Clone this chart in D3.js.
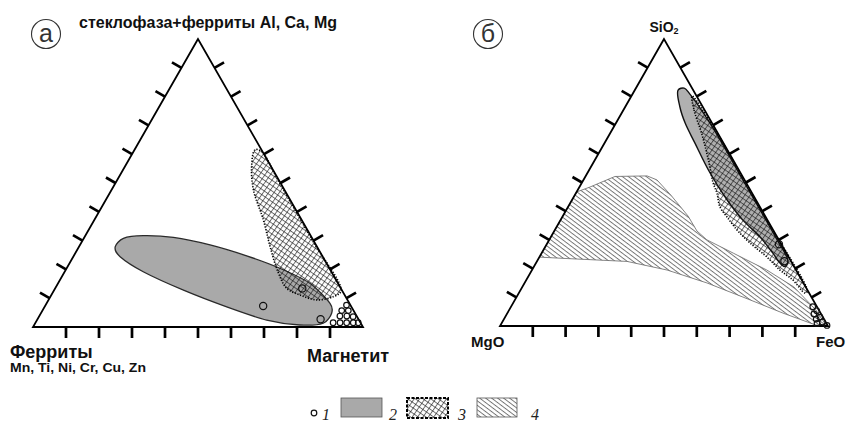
<!DOCTYPE html>
<html>
<head>
<meta charset="utf-8">
<script src="https://cdn.jsdelivr.net/npm/d3@7"></script>
<style>
  body { margin: 0; background: #fff; }
  svg { display: block; }
</style>
</head>
<body>
<div id="output"></div>
<script>
// all compositions in %, order: [top, bottom-left, bottom-right]
const tickSteps = [10, 20, 30, 40, 50, 60, 70, 80, 90];

// panel а: стеклофаза (top), ферриты (left), магнетит (right)
const ellipseA = [
  [27.8, 61.2, 11.0], [30.8, 57.2, 12.0], [31.7, 50.7, 17.6], [31.1, 41.9, 27.0],
  [28.5, 32.1, 39.4], [24.7, 22.9, 52.4], [20.4, 15.0, 64.6], [15.2, 8.5, 76.3],
  [8.2, 5.9, 85.9], [4.8, 7.1, 88.1], [1.3, 11.4, 87.3], [0.7, 18.8, 80.5],
  [2.4, 28.0, 69.6], [7.0, 37.8, 55.2], [12.8, 48.0, 39.2], [19.2, 57.0, 23.8],
  [24.4, 61.4, 14.2]
];
const hatchA = [
  [61.5, 2.0, 36.5], [55.7, 5.9, 38.4], [47.6, 9.4, 43.0], [37.2, 11.6, 51.2],
  [27.9, 14.2, 57.9], [19.1, 16.2, 64.7], [13.4, 16.4, 70.2], [11.1, 13.5, 75.4],
  [9.4, 9.3, 81.3], [10.5, 3.8, 85.7], [12.5, 0.4, 87.1], [30, 0.3, 69.7],
  [50, 0.3, 49.7], [61, 0.3, 38.7]
];
const pointsA = [[7.3, 26.6, 66.1], [13.4, 11.7, 74.9], [2.7, 11.5, 85.8]];
const clusterA = [
  [1.5, 8.3, 90.2], [1.5, 6.2, 92.3], [1.5, 4.2, 94.3], [1.5, 2.2, 96.3], [1.5, 0.7, 97.8],
  [3.8, 5.1, 91.1], [3.8, 3.0, 93.2], [3.6, 1.2, 95.2], [5.7, 3.6, 90.7], [5.7, 1.6, 92.7],
  [7.6, 1.2, 91.2]
];

// panel б: SiO2 (top), MgO (left), FeO (right)
const grayB = [
  [82.2, 4.6, 13.2], [82.9, 2.4, 14.7], [80.8, 1.7, 17.5], [70, 0.6, 29.4],
  [50, 0.5, 49.5], [30, 0.5, 69.5], [22.6, 0.9, 76.5], [20.7, 2.8, 76.5],
  [22.0, 3.7, 74.3], [25.4, 4.1, 70.5], [31.0, 5.2, 63.8], [36.9, 7.5, 55.6],
  [43.9, 8.8, 47.3], [53.3, 9.3, 37.4], [63.8, 8.7, 27.5], [70.7, 8.2, 21.1],
  [76.3, 7.0, 16.7]
];
const hatchB = [
  [80.1, 1.4, 18.5], [75.3, 3.2, 21.5], [66.6, 5.1, 28.3], [58, 7.5, 34.5],
  [49.8, 10.1, 40.1], [46.3, 10.7, 43.0], [41.5, 12.2, 46.3], [38.0, 11.8, 50.2],
  [33.4, 11.0, 55.6], [28.9, 9.3, 61.8], [24.0, 6.6, 69.4], [19.5, 4.9, 75.6],
  [16.0, 2.7, 81.3], [11.5, 1.3, 87.2], [12, 0.3, 87.7], [40, 0.3, 59.7],
  [70, 0.3, 29.7]
];
const stripeB = [
  [46.7, 53.3, 0], [48.4, 48.4, 3.2], [52.1, 38.9, 9.0], [52.3, 29.0, 18.7],
  [50.9, 26.7, 22.4], [45.6, 25.1, 29.3], [38.3, 23.5, 38.2], [33.1, 23.4, 43.5],
  [30.0, 21.9, 48.1], [25.4, 16.2, 58.4], [19.5, 8.9, 71.6], [13.6, 3.6, 82.8],
  [5.6, 0.9, 93.5], [0.5, 0.5, 99.0], [0.3, 3.5, 96.2], [4.5, 11.5, 84.0],
  [9.1, 19.2, 71.7], [15.0, 29.4, 55.6], [19.5, 39.3, 41.2], [22.5, 50.0, 27.5],
  [23.5, 67.8, 8.7], [24.0, 76.0, 0]
];
const pointsB = [[28.5, 0.7, 70.8], [22.6, 2.0, 75.4]];
const clusterB = [
  [6.7, 1.3, 92.0], [5.3, 0.8, 93.9], [4.2, 2.2, 93.6], [3.1, 0.9, 96.0],
  [2.4, 2.4, 95.2], [1.4, 1.0, 97.6], [0.9, 2.9, 96.2], [0.2, 0.2, 99.6]
];

const legendLabels = ["1", "2", "3", "4"];

const width = 848, height = 422;
const font = "'Liberation Sans', Arial, sans-serif";

const svg = d3.select("#output").append("svg")
    .attr("width", width)
    .attr("height", height)
    .style("font-family", font);

const defs = svg.append("defs");

// crosshatch for field 3
const cross = defs.append("pattern")
    .attr("id", "cross")
    .attr("patternUnits", "userSpaceOnUse")
    .attr("width", 4.4)
    .attr("height", 4.4)
    .attr("patternTransform", "rotate(35)");
cross.append("path")
    .attr("d", "M0,0.5H4.4M0.5,0V4.4")
    .attr("stroke", "#111")
    .attr("stroke-width", 0.6);

// oblique lines for field 4
const stripe = defs.append("pattern")
    .attr("id", "stripe")
    .attr("patternUnits", "userSpaceOnUse")
    .attr("width", 8)
    .attr("height", 3.6)
    .attr("patternTransform", "rotate(37)");
stripe.append("path")
    .attr("d", "M0,0.5H8")
    .attr("stroke", "#444")
    .attr("stroke-width", 0.75);

function panel(cfg) {
    const xs = d3.scaleLinear([0, 100], [cfg.left, cfg.right]);
    const ys = d3.scaleLinear([0, 100], [cfg.base, cfg.apex]);
    const P = d => [xs(d[2] + d[0] / 2), ys(d[0])];
    const g = svg.append("g");

    const smooth = d3.line(d => P(d)[0], d => P(d)[1]).curve(d3.curveCatmullRomClosed.alpha(0.5));
    const poly = d3.line(d => P(d)[0], d => P(d)[1]).curve(d3.curveLinearClosed);

    cfg.draw(g, P, smooth, poly);

    // triangle frame
    const corners = [[100, 0, 0], [0, 100, 0], [0, 0, 100]];
    g.append("path")
        .attr("d", poly(corners))
        .attr("fill", "none")
        .attr("stroke", "#000")
        .attr("stroke-width", 1.8)
        .attr("stroke-linejoin", "miter");

    // tick marks, pointing outwards
    const L = 11;
    const sides = [
        {pos: t => [0, 100 - t, t], n: [0, 1]},
        {pos: t => [t, 100 - t, 0], n: [-0.866, -0.5]},
        {pos: t => [t, 0, 100 - t], n: [0.866, -0.5]}
    ];
    sides.forEach(s => {
        g.append("g").selectAll("line")
            .data(tickSteps)
            .join("line")
            .attr("x1", t => P(s.pos(t))[0])
            .attr("y1", t => P(s.pos(t))[1])
            .attr("x2", t => P(s.pos(t))[0] + s.n[0] * L)
            .attr("y2", t => P(s.pos(t))[1] + s.n[1] * L)
            .attr("stroke", "#000")
            .attr("stroke-width", 2.7);
    });

    // analyses
    const circles = (data, r) => g.append("g").selectAll("circle")
        .data(data)
        .join("circle")
        .attr("cx", d => P(d)[0])
        .attr("cy", d => P(d)[1])
        .attr("r", r)
        .attr("fill", "none")
        .attr("stroke", "#111")
        .attr("stroke-width", 1.2);
    circles(cfg.points, 3.6);
    circles(cfg.cluster, 2.8);
}

function hatchField(g, d) {
    g.append("path")
        .attr("d", d)
        .attr("fill", "url(#cross)")
        .attr("stroke", "#000")
        .attr("stroke-width", 1.6)
        .attr("stroke-dasharray", "1.2,1.6");
}

panel({
    left: 33, right: 363, base: 327, apex: 39,
    points: pointsA, cluster: clusterA,
    draw: (g, P, smooth, poly) => {
        g.append("path")
            .attr("d", d3.line(d => P(d)[0], d => P(d)[1]).curve(d3.curveCardinalClosed.tension(0.2))(ellipseA))
            .attr("fill", "#a9a9a9")
            .attr("stroke", "#2a2a2a")
            .attr("stroke-width", 1.3);
        hatchField(g, smooth(hatchA));
    }
});

panel({
    left: 500, right: 828, base: 326, apex: 39,
    points: pointsB, cluster: clusterB,
    draw: (g, P, smooth, poly) => {
        g.append("path")
            .attr("d", poly(stripeB))
            .attr("fill", "url(#stripe)")
            .attr("stroke", "#666")
            .attr("stroke-width", 0.8);
        g.append("path")
            .attr("d", smooth(grayB))
            .attr("fill", "#b0b0b0")
            .attr("stroke", "#111")
            .attr("stroke-width", 1.4);
        hatchField(g, smooth(hatchB));
    }
});

// labels
const txt = (x, y, s, size, weight, anchor) => svg.append("text")
    .attr("x", x).attr("y", y)
    .attr("font-size", size)
    .attr("font-weight", weight || "bold")
    .attr("text-anchor", anchor || "start")
    .attr("fill", "#111")
    .text(s);

txt(79, 28, "стеклофаза+ферриты Al, Ca, Mg", 16);
txt(10, 358, "Ферриты", 18);
txt(10, 372, "Mn, Ti, Ni, Cr, Cu, Zn", 13).attr("textLength", 136).attr("lengthAdjust", "spacingAndGlyphs");
txt(307, 362, "Магнетит", 18);
txt(471, 347, "MgO", 15);
txt(816, 347, "FeO", 15);

const si = txt(664, 32, "SiO", 14, "bold", "middle");
si.append("tspan").attr("font-size", 9).attr("dy", 2).text("2");

[{x: 46, y: 34, s: "а"}, {x: 488, y: 34, s: "б"}].forEach(m => {
    svg.append("circle")
        .attr("cx", m.x).attr("cy", m.y).attr("r", 14.5)
        .attr("fill", "none").attr("stroke", "#333").attr("stroke-width", 1.1);
    txt(m.x, m.y + 8, m.s, 25, "normal", "middle").attr("fill", "#333");
});

// legend
const lg = svg.append("g").attr("font-family", "'Liberation Serif', 'Times New Roman', serif");
const ly = 408;
lg.append("circle").attr("cx", 314).attr("cy", 413).attr("r", 2.8)
    .attr("fill", "none").attr("stroke", "#111").attr("stroke-width", 1.2);
lg.append("rect").attr("x", 341).attr("y", ly - 10).attr("width", 41).attr("height", 19)
    .attr("fill", "#a9a9a9").attr("stroke", "#555").attr("stroke-width", 0.8);
lg.append("rect").attr("x", 407).attr("y", ly - 10).attr("width", 41).attr("height", 20)
    .attr("fill", "url(#cross)").attr("stroke", "#000").attr("stroke-width", 2)
    .attr("stroke-dasharray", "3,1.5");
lg.append("rect").attr("x", 477).attr("y", ly - 10).attr("width", 40).attr("height", 19)
    .attr("fill", "url(#stripe)").attr("stroke", "#555").attr("stroke-width", 0.8);
lg.selectAll("text.num")
    .data(legendLabels)
    .join("text")
    .attr("class", "num")
    .attr("x", (d, i) => [322, 389, 458, 531][i])
    .attr("y", 420)
    .attr("font-size", 16)
    .attr("font-style", "italic")
    .attr("fill", "#222")
    .text(d => d);
</script>
</body>
</html>
